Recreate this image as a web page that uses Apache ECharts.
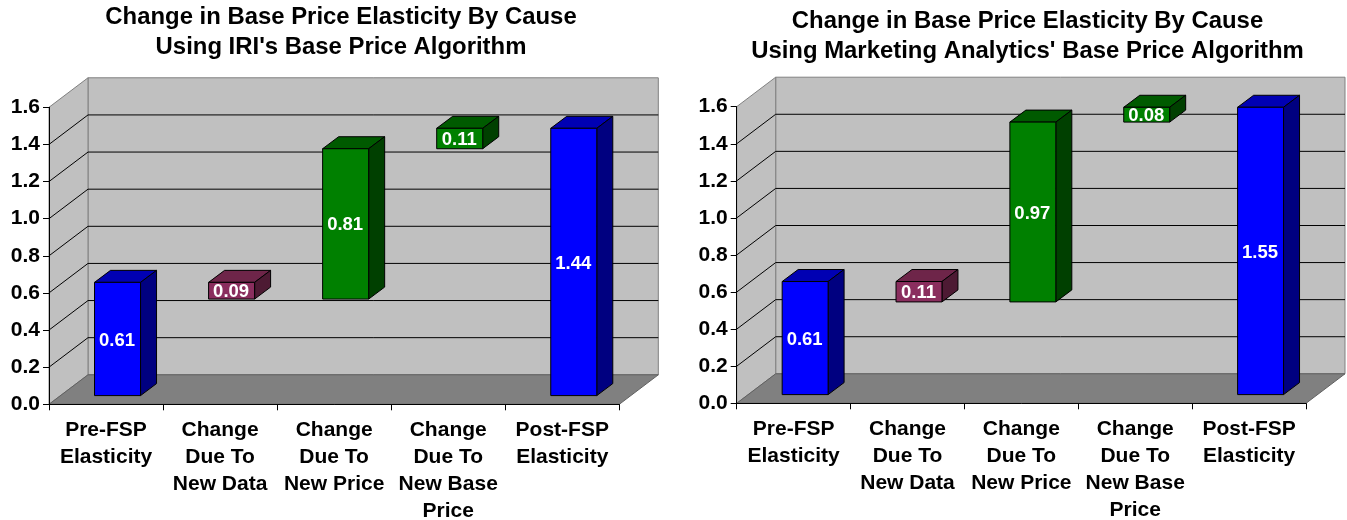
<!DOCTYPE html>
<html>
<head>
<meta charset="utf-8">
<style>html,body{margin:0;padding:0;background:#fff}#c{width:1347px;height:520px}</style>
<script src="https://cdn.jsdelivr.net/npm/echarts@6/dist/echarts.min.js"></script>
</head>
<body>
<div id="c"></div>
<script>
var categories = ['Pre-FSP\nElasticity', 'Change\nDue To\nNew Data', 'Change\nDue To\nNew Price', 'Change\nDue To\nNew Base\nPrice', 'Post-FSP\nElasticity'];
var yTicks = [0, 0.2, 0.4, 0.6, 0.8, 1.0, 1.2, 1.4, 1.6];
var leftTitle = "Change in Base Price Elasticity By Cause\nUsing IRI's Base Price Algorithm";
var rightTitle = "Change in Base Price Elasticity By Cause\nUsing Marketing Analytics' Base Price Algorithm";
var leftStarts = [0, 0.52, 0.52, 1.33, 0];
var leftChanges = [0.61, 0.09, 0.81, 0.11, 1.44];
var rightStarts = [0, 0.5, 0.5, 1.47, 0];
var rightChanges = [0.61, 0.11, 0.97, 0.08, 1.55];

var FONT = '"Liberation Sans", Arial, sans-serif';
var BLUE = ['#0000FF', '#0000B3', '#000080'];
var MAROON = ['#8A2E5E', '#6E2549', '#4D1A33'];
var GREEN = ['#008000', '#005A00', '#004000'];
var palette = [BLUE, MAROON, GREEN, GREEN, BLUE];
var wallDx = 39, wallDy = 29.5;
var barDx = 16, barDy = 12, barShiftX = 11.5, barShiftY = 8.7, barWidthShare = 0.4035;

function poly(points, fill, stroke) {
  return { type: 'polygon', shape: { points: points }, style: { fill: fill, stroke: stroke, lineWidth: 1 } };
}
function seg(a, b, stroke, w) {
  return { type: 'line', shape: { x1: a[0], y1: a[1], x2: b[0], y2: b[1] }, style: { stroke: stroke, lineWidth: w || 1, fill: null } };
}

function renderWalls(params, api) {
  var cs = params.coordSys;
  var xL = cs.x, xR = cs.x + cs.width, yB = cs.y + cs.height, yT = cs.y;
  var kids = [];
  kids.push(poly([[xL + wallDx, yT - wallDy], [xR + wallDx, yT - wallDy], [xR + wallDx, yB - wallDy], [xL + wallDx, yB - wallDy]], '#C0C0C0', '#808080'));
  kids.push(poly([[xL, yT], [xL + wallDx, yT - wallDy], [xL + wallDx, yB - wallDy], [xL, yB]], '#C0C0C0', '#808080'));
  kids.push(poly([[xL, yB], [xL + wallDx, yB - wallDy], [xR + wallDx, yB - wallDy], [xR, yB]], '#808080', '#606060'));
  yTicks.forEach(function (t) {
    if (t === yTicks[0] || t === yTicks[yTicks.length - 1]) return;
    var y = api.coord([0, t])[1];
    kids.push(seg([xL, y], [xL + wallDx, y - wallDy], '#000'));
    kids.push(seg([xL + wallDx, y - wallDy], [xR + wallDx, y - wallDy], '#000'));
  });
  return { type: 'group', children: kids };
}

function renderBar(params, api) {
  var i = api.value(0), start = api.value(1), change = api.value(2);
  var b = api.coord([i, start]), t = api.coord([i, start + change]);
  var w = api.size([1, 0])[0] * barWidthShare;
  var x0 = b[0] + barShiftX - w / 2, x1 = x0 + w;
  var yb = b[1] - barShiftY, yt = t[1] - barShiftY;
  var c = palette[i];
  return {
    type: 'group',
    children: [
      poly([[x0, yt], [x0 + barDx, yt - barDy], [x1 + barDx, yt - barDy], [x1, yt]], c[1], '#000'),
      poly([[x1, yt], [x1 + barDx, yt - barDy], [x1 + barDx, yb - barDy], [x1, yb]], c[2], '#000'),
      poly([[x0, yt], [x1, yt], [x1, yb], [x0, yb]], c[0], '#000'),
      { type: 'text', style: { x: (x0 + x1) / 2 - 0.5, y: (yt + yb) / 2 + 1.5, text: change.toFixed(2), fill: '#fff', font: 'bold 18.5px ' + FONT, align: 'center', verticalAlign: 'middle' } }
    ]
  };
}

function bars(starts, changes) {
  return categories.map(function (_, i) { return [i, starts[i], changes[i]]; });
}

function makeSeries(idx, starts, changes) {
  return [
    { type: 'custom', xAxisIndex: idx, yAxisIndex: idx, clip: false, z: 1, silent: true, data: [[0, 0, 0]], renderItem: renderWalls, encode: { x: 0, y: 1 } },
    { type: 'custom', xAxisIndex: idx, yAxisIndex: idx, clip: false, z: 3, silent: true, data: bars(starts, changes), renderItem: renderBar, encode: { x: 0, y: 1 } }
  ];
}

function xAxis(idx) {
  return {
    type: 'category', gridIndex: idx, data: categories, boundaryGap: true, z: 5,
    axisLine: { show: true, lineStyle: { color: '#000', width: 1 } },
    axisTick: { show: true, length: 6, alignWithLabel: false, interval: 0, lineStyle: { color: '#000' } },
    axisLabel: { show: true, interval: 0, color: '#000', fontFamily: FONT, fontWeight: 'bold', fontSize: 21, lineHeight: 27, margin: 12 },
    splitLine: { show: false }
  };
}
function yAxis(idx) {
  return {
    type: 'value', gridIndex: idx, min: yTicks[0], max: yTicks[yTicks.length - 1], interval: 0.2, z: 5,
    axisLine: { show: true, lineStyle: { color: '#000', width: 1 } },
    axisTick: { show: true, length: 6, lineStyle: { color: '#000' } },
    axisLabel: { show: true, color: '#000', fontFamily: FONT, fontWeight: 'bold', fontSize: 21, margin: 9, padding: [4, 0, 0, 0], formatter: function (v) { return v.toFixed(1); } },
    splitLine: { show: false }
  };
}
function title(text, x, y) {
  return { text: text, left: x, top: y, textAlign: 'center', padding: 0,
    textStyle: { color: '#000', fontFamily: FONT, fontWeight: 'bold', fontSize: 23.9, lineHeight: 30 } };
}

var chart = echarts.init(document.getElementById('c'), null, { renderer: 'canvas' });
chart.setOption({
  animation: false,
  backgroundColor: '#fff',
  title: [title(leftTitle, 341, 2), title(rightTitle, 1027.5, 6)],
  grid: [
    { left: 49, top: 107.3, width: 570.3, height: 297, outerBoundsMode: 'none' },
    { left: 736.7, top: 106.7, width: 569.3, height: 296.6, outerBoundsMode: 'none' }
  ],
  xAxis: [xAxis(0), xAxis(1)],
  yAxis: [yAxis(0), yAxis(1)],
  series: makeSeries(0, leftStarts, leftChanges).concat(makeSeries(1, rightStarts, rightChanges))
});
</script>
</body>
</html>
